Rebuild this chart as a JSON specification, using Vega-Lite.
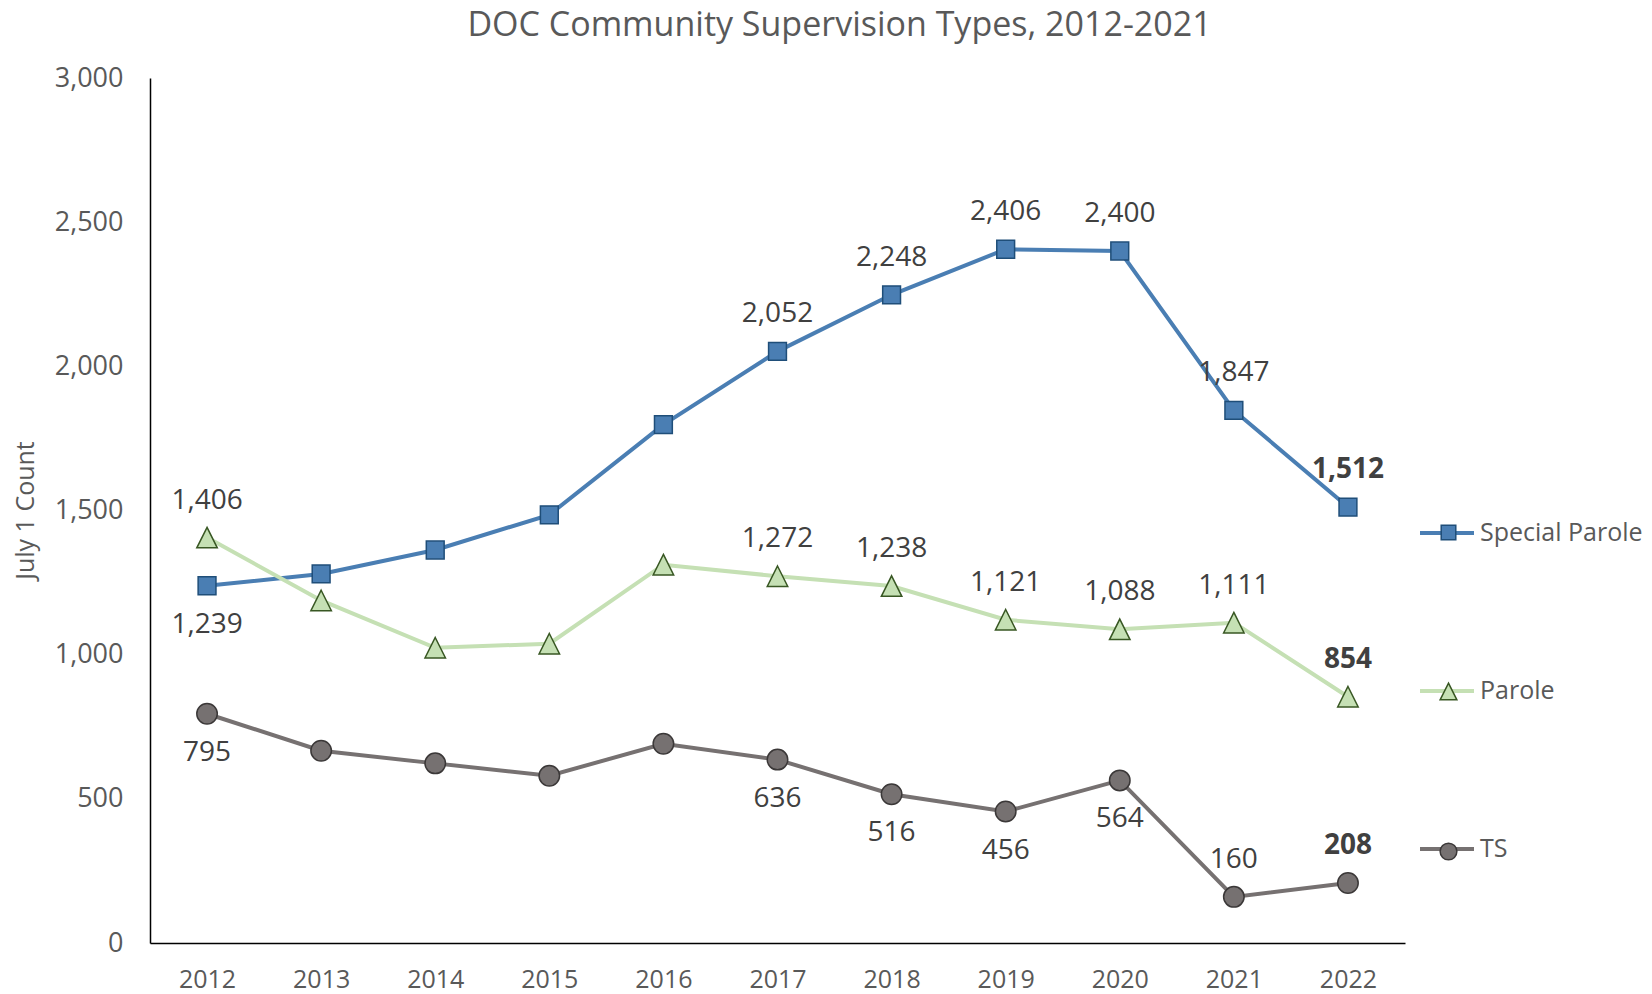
{
  "$schema": "https://vega.github.io/schema/vega-lite/v6.json",
  "width": 1255,
  "height": 865,
  "autosize": {"type": "none"},
  "padding": {"left": 150, "top": 78, "right": 247, "bottom": 51},
  "background": "white",
  "config": {"view": {"stroke": null}, "font": "Open Sans"},
  "title": {"text": "DOC Community Supervision Types, 2012-2021", "font": "Open Sans", "fontSize": 34, "fontWeight": "normal", "color": "#595959", "anchor": "middle", "frame": "group", "dx": 62, "offset": 21},
  "data": {"values": [
    {"year": "2012", "series": "Special Parole", "value": 1239},
    {"year": "2013", "series": "Special Parole", "value": 1280},
    {"year": "2014", "series": "Special Parole", "value": 1363},
    {"year": "2015", "series": "Special Parole", "value": 1485},
    {"year": "2016", "series": "Special Parole", "value": 1798},
    {"year": "2017", "series": "Special Parole", "value": 2052},
    {"year": "2018", "series": "Special Parole", "value": 2248},
    {"year": "2019", "series": "Special Parole", "value": 2406},
    {"year": "2020", "series": "Special Parole", "value": 2400},
    {"year": "2021", "series": "Special Parole", "value": 1847},
    {"year": "2022", "series": "Special Parole", "value": 1512},
    {"year": "2012", "series": "Parole", "value": 1406},
    {"year": "2013", "series": "Parole", "value": 1188},
    {"year": "2014", "series": "Parole", "value": 1024},
    {"year": "2015", "series": "Parole", "value": 1038},
    {"year": "2016", "series": "Parole", "value": 1312},
    {"year": "2017", "series": "Parole", "value": 1272},
    {"year": "2018", "series": "Parole", "value": 1238},
    {"year": "2019", "series": "Parole", "value": 1121},
    {"year": "2020", "series": "Parole", "value": 1088},
    {"year": "2021", "series": "Parole", "value": 1111},
    {"year": "2022", "series": "Parole", "value": 854},
    {"year": "2012", "series": "TS", "value": 795},
    {"year": "2013", "series": "TS", "value": 667},
    {"year": "2014", "series": "TS", "value": 623},
    {"year": "2015", "series": "TS", "value": 580},
    {"year": "2016", "series": "TS", "value": 691},
    {"year": "2017", "series": "TS", "value": 636},
    {"year": "2018", "series": "TS", "value": 516},
    {"year": "2019", "series": "TS", "value": 456},
    {"year": "2020", "series": "TS", "value": 564},
    {"year": "2021", "series": "TS", "value": 160},
    {"year": "2022", "series": "TS", "value": 208}
  ]},
  "encoding": {
    "x": {"field": "year", "type": "ordinal", "scale": {"type": "point", "padding": 0.5},
      "axis": {"title": null, "labelAngle": 0, "labelFont": "Open Sans", "labelFontSize": 25, "labelColor": "#595959", "labelPadding": 24, "ticks": false, "grid": false, "domainColor": "#000000", "domainWidth": 1.5}},
    "y": {"field": "value", "type": "quantitative", "scale": {"domain": [0, 3000], "nice": false},
      "axis": {"title": "July 1 Count", "titleFont": "Open Sans", "titleFontSize": 25, "titleFontWeight": "normal", "titleColor": "#595959", "titleX": -125, "titleY": 432, "titleAngle": 270, "titleBaseline": "middle", "titleAlign": "center",
        "values": [0, 500, 1000, 1500, 2000, 2500, 3000], "format": ",.0f", "labelFont": "Open Sans", "labelFontSize": 27, "labelColor": "#595959", "labelPadding": 27, "ticks": false, "grid": false, "domainColor": "#000000", "domainWidth": 1.5}}
  },
  "layer": [
    {
      "mark": {"type": "line", "strokeWidth": 4},
      "encoding": {
        "color": {"field": "series", "type": "nominal", "sort": ["Special Parole", "Parole", "TS"],
          "scale": {"range": ["#4a7eb3", "#c5e0b4", "#767171"]},
          "legend": {"orient": "none", "legendX": 1268, "legendY": 426, "title": null, "symbolType": "stroke", "symbolSize": 2916, "symbolStrokeWidth": 4, "labelFont": "Open Sans", "labelFontSize": 25, "labelColor": "#595959", "labelOffset": 4, "labelLimit": 300, "rowPadding": 116, "padding": 0}}
      }
    },
    {
      "mark": {"type": "point", "filled": true, "opacity": 1, "strokeWidth": 1.5, "size": 420},
      "encoding": {
        "shape": {"field": "series", "type": "nominal", "scale": {"domain": ["Special Parole", "Parole", "TS"], "range": ["M-0.87,-0.87H0.87V0.87H-0.87Z", "M0,-1L1,1H-1Z", "circle"]},
          "legend": {"orient": "none", "legendX": 1289, "legendY": 445, "title": null, "symbolSize": 280, "symbolStrokeWidth": 1.5, "labelExpr": "''", "labelFontSize": 1, "rowPadding": 137, "padding": 0}},
        "fill": {"field": "series", "type": "nominal", "scale": {"domain": ["Special Parole", "Parole", "TS"], "range": ["#4a7eb3", "#c5e0b4", "#767171"]},
          "legend": {"orient": "none", "legendX": 1289, "legendY": 445, "title": null, "symbolSize": 280, "symbolStrokeWidth": 1.5, "labelExpr": "''", "labelFontSize": 1, "rowPadding": 137, "padding": 0}},
        "stroke": {"field": "series", "type": "nominal", "scale": {"domain": ["Special Parole", "Parole", "TS"], "range": ["#1f4e79", "#385723", "#3b3838"]},
          "legend": {"orient": "none", "legendX": 1289, "legendY": 445, "title": null, "symbolSize": 280, "symbolStrokeWidth": 1.5, "labelExpr": "''", "labelFontSize": 1, "rowPadding": 137, "padding": 0}}
      }
    },
    {
      "transform": [{"filter": "(datum.series == 'Special Parole' && datum.year >= '2017' && datum.year <= '2021') || (datum.series == 'Parole' && (datum.year == '2012' || (datum.year >= '2017' && datum.year <= '2021'))) || (datum.series == 'TS' && datum.year == '2021')"}],
      "mark": {"type": "text", "dy": -37, "baseline": "middle", "align": "center", "font": "Open Sans", "fontSize": 28, "color": "#404040"},
      "encoding": {"text": {"field": "value", "type": "quantitative", "format": ","}}
    },
    {
      "transform": [{"filter": "datum.year == '2022'"}],
      "mark": {"type": "text", "dy": -37, "baseline": "middle", "align": "center", "font": "Open Sans", "fontSize": 28, "fontWeight": "bold", "color": "#404040"},
      "encoding": {"text": {"field": "value", "type": "quantitative", "format": ","}}
    },
    {
      "transform": [{"filter": "(datum.series == 'Special Parole' && datum.year == '2012') || (datum.series == 'TS' && (datum.year == '2012' || (datum.year >= '2017' && datum.year <= '2020')))"}],
      "mark": {"type": "text", "dy": 39, "baseline": "middle", "align": "center", "font": "Open Sans", "fontSize": 28, "color": "#404040"},
      "encoding": {"text": {"field": "value", "type": "quantitative", "format": ","}}
    }
  ]
}
